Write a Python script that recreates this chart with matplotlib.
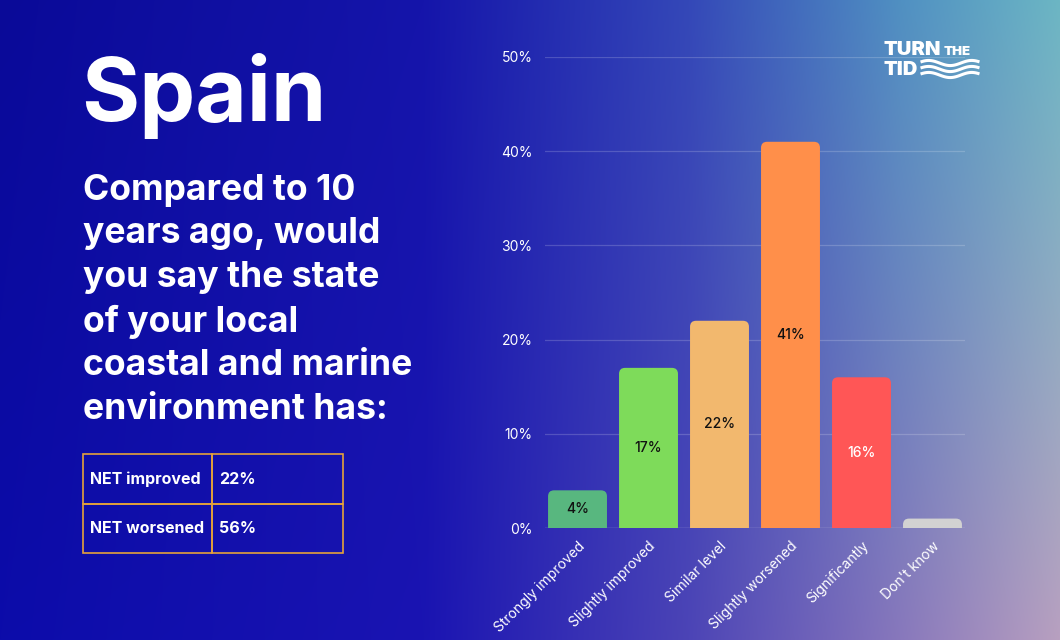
import numpy as np
import matplotlib
matplotlib.use("Agg")
import matplotlib.pyplot as plt
from matplotlib.patches import FancyBboxPatch, Rectangle

plt.rcParams['font.family'] = ['Inter', 'DejaVu Sans']

# data
categories = ["Strongly improved", "Slightly improved", "Similar level",
              "Slightly worsened", "Significantly", "Don't know"]
values = [4, 17, 22, 41, 16, 1]
bar_labels = ["4%", "17%", "22%", "41%", "16%", ""]
bar_colors = ["#58b77f", "#7edb5a", "#f2b86e", "#ff8f4a", "#ff5656", "#d2d2d2"]
label_colors = ["#111111", "#111111", "#111111", "#111111", "white", "white"]
yticks = [0, 10, 20, 30, 40, 50]
net_rows = [["NET improved", "22%"], ["NET worsened", "56%"]]

title = "Spain"
question = ("Compared to 10\nyears ago, would\nyou say the state\nof your local\n"
            "coastal and marine\nenvironment has:")

W, H = 1060, 640
fig = plt.figure(figsize=(W / 100, H / 100), dpi=100)

# background gradient
def hex2rgb(h):
    h = h.lstrip('#')
    return np.array([int(h[i:i + 2], 16) / 255 for i in (0, 2, 4)])

stops_x = [0.0, 0.4, 0.65, 0.85, 1.0]
top_cols = [hex2rgb(c) for c in ["#0a0a98", "#1515aa", "#3448b8", "#5090c2", "#6cb6c4"]]
bot_cols = [hex2rgb(c) for c in ["#0c0caa", "#1a14b2", "#4c44b6", "#8878bc", "#b8a0c0"]]
xs = np.linspace(0, 1, W)
ys = np.linspace(0, 1, H)[:, None]
top = np.stack([np.interp(xs, stops_x, [c[k] for c in top_cols]) for k in range(3)], -1)
bot = np.stack([np.interp(xs, stops_x, [c[k] for c in bot_cols]) for k in range(3)], -1)
img = top[None, :, :] * (1 - ys[..., None]) + bot[None, :, :] * ys[..., None]
bg = fig.add_axes([0, 0, 1, 1], zorder=-10)
bg.imshow(img, aspect='auto', extent=[0, 1, 0, 1], origin='upper')
bg.axis('off')

# left texts
fig.text(81 / W, 1 - 96 / H, title, color='white', fontsize=64, fontweight='bold',
         va='center', ha='left')
fig.text(83 / W, 1 - 174 / H, question, color='white', fontsize=25.6, fontweight='bold',
         va='top', ha='left', linespacing=1.40)

# NET table
tx0, tx1, tx2 = 83, 212, 343
ty0, ty1, ty2 = 454, 504, 553
edge = "#e5a23a"
for (ya, yb), row in zip([(ty0, ty1), (ty1, ty2)], net_rows):
    for (xa, xb), txt in zip([(tx0, tx1), (tx1, tx2)], row):
        fig.patches.append(Rectangle((xa / W, 1 - yb / H), (xb - xa) / W, (yb - ya) / H,
                                     transform=fig.transFigure, fill=False,
                                     edgecolor=edge, linewidth=1.2))
        fig.text((xa + 7) / W, 1 - (ya + yb) / 2 / H, txt, color='white', fontsize=11.5,
                 fontweight='bold', va='center', ha='left')

# chart
ax = fig.add_axes([545 / W, 1 - 528 / H, 420 / W, (528 - 57) / H])
ax.set_facecolor('none')
x = np.arange(len(categories))
bars = ax.bar(x, values, width=0.83, color=bar_colors)
ax.set_xlim(-0.458, 5.458)
ax.set_ylim(0, 50)

# rounded tops
for b, c in zip(bars, bar_colors):
    b.set_visible(False)
    r = 0.085
    p = FancyBboxPatch((b.get_x(), -1), b.get_width(), b.get_height() + 1,
                       boxstyle=f"round,pad=0,rounding_size={r}",
                       mutation_aspect=7.5, facecolor=c, edgecolor='none', zorder=3)
    ax.add_patch(p)

for xi, v, lab, lc in zip(x, values, bar_labels, label_colors):
    if lab:
        ax.text(xi, v / 2, lab, ha='center', va='center', color=lc, fontsize=10,
                fontweight='medium', zorder=4)

ax.set_yticks(yticks)
ax.set_yticklabels([f"{t}%" for t in yticks])
ax.grid(axis='y', color='white', alpha=0.18, linewidth=0.9)
ax.set_axisbelow(True)
ax.axhline(0, color='white', alpha=0.3, linewidth=1, zorder=2)
ax.set_xticks(x)
ax.set_xticklabels(categories, rotation=45, ha='right', rotation_mode='anchor')
ax.tick_params(length=0, colors='white', labelsize=10)
ax.tick_params(axis='y', pad=9)
ax.tick_params(axis='x', pad=8)
for s in ax.spines.values():
    s.set_visible(False)

# logo
fig.text(884 / W, 1 - 50 / H, "TURN", color='white', fontsize=14.5, fontweight='black',
         va='center', ha='left')
fig.text(944 / W, 1 - 52 / H, "THE", color='white', fontsize=9.5, fontweight='black',
         va='center', ha='left')
fig.text(884 / W, 1 - 70 / H, "TID", color='white', fontsize=14.5, fontweight='black',
         va='center', ha='left')
wx = np.linspace(0, 1, 60)
for k in range(3):
    wy = 0.004 * np.sin(wx * 2 * np.pi * 1.3 + 0.6)
    fig.lines.append(plt.Line2D((922 + wx * 56) / W, 1 - (63 + k * 6) / H + wy,
                                transform=fig.transFigure, color='white', linewidth=2.2))

fig.savefig("out.png", dpi=100)
